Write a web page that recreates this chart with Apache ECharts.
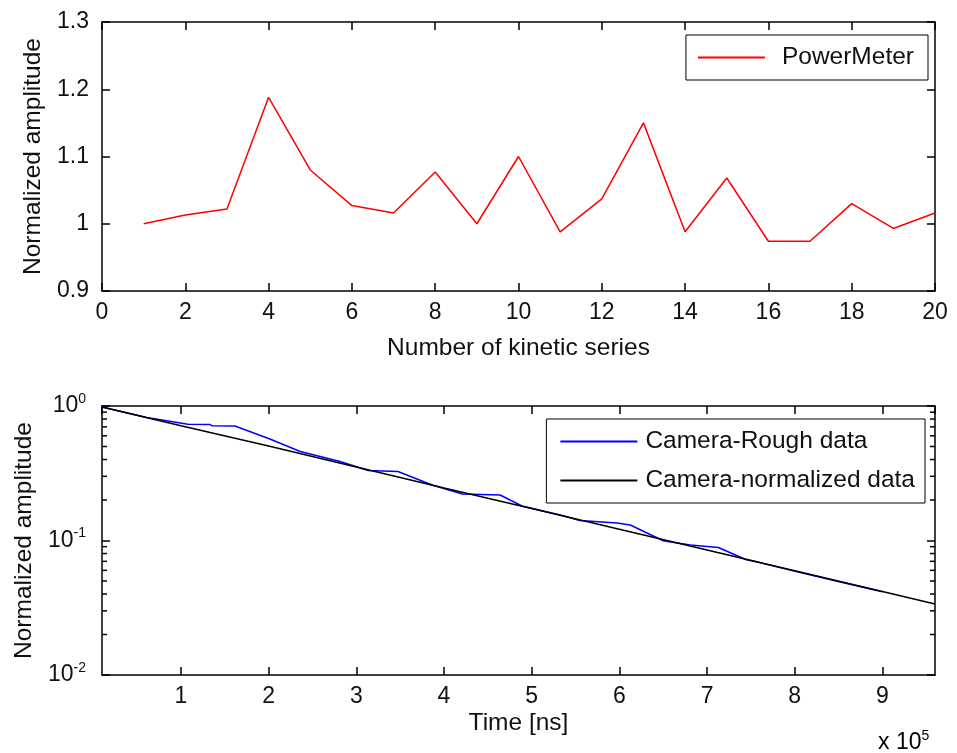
<!DOCTYPE html>
<html>
<head>
<meta charset="utf-8">
<script src="https://cdn.jsdelivr.net/npm/echarts@6/dist/echarts.min.js"></script>
<style>
html, body { margin: 0; padding: 0; background: #fff; }
#chart { width: 957px; height: 753px; }
</style>
</head>
<body>
<div id="chart"></div>
<script>
// top panel: power meter per kinetic series
var kineticSeries = [1, 2, 3, 4, 5, 6, 7, 8, 9, 10, 11, 12, 13, 14, 15, 16, 17, 18, 19, 20]
var powerMeter = [1.0, 1.013, 1.022, 1.188, 1.08, 1.027, 1.016, 1.077, 1.0, 1.1,
  0.988, 1.037, 1.15, 0.988, 1.068, 0.974, 0.974, 1.03, 0.993, 1.016]

// bottom panel: camera decay (time in ns)
var timeRough = [10000, 61000, 108000, 133000, 135500, 161500, 201500, 236000, 281500, 313500,
  347500, 386500, 421000, 464000, 489000, 532500, 555000, 597500, 612500, 650000,
  681000, 713000, 744000, 761000, 806500, 852000, 900000]
var cameraRough = [0.983, 0.820, 0.731, 0.729, 0.712, 0.710, 0.568, 0.459, 0.387, 0.3315,
  0.326, 0.2586, 0.2217, 0.2180, 0.1805, 0.1547, 0.1408, 0.1349, 0.1304, 0.0995,
  0.0926, 0.0887, 0.0722, 0.0682, 0.0578, 0.0492, 0.0416]
var timeNorm = [10000, 100000, 200000, 300000, 400000, 500000, 600000, 700000, 800000, 900000, 960000]
var cameraNorm = [0.983, 0.714, 0.505, 0.352, 0.2457, 0.1727, 0.1212, 0.0850, 0.0596, 0.0418, 0.0337]

var minorTickVals = [0.02, 0.03, 0.04, 0.05, 0.06, 0.07, 0.08, 0.09,
  0.2, 0.3, 0.4, 0.5, 0.6, 0.7, 0.8, 0.9]

var FONT = 'Liberation Sans, Arial, sans-serif'
var FS = 23
var FS_NAME = 24.5
var TXT = '#111'

function frameAxis(extra) {
  var base = {
    axisLine: { show: true, onZero: false, lineStyle: { color: '#000', width: 1.5 } },
    axisTick: { show: true, inside: true, length: 8, lineStyle: { color: '#000', width: 1.5 } },
    splitLine: { show: false },
    axisLabel: { show: false }
  }
  return Object.assign(base, extra)
}

var labelStyle = { color: TXT, fontSize: FS, fontFamily: FONT }
var nameStyle = { color: TXT, fontSize: FS_NAME, fontFamily: FONT }

var powRich = {
  b: { fontSize: FS, fontFamily: FONT, color: TXT },
  s: { fontSize: 14, fontFamily: FONT, color: TXT, verticalAlign: 'top', padding: [0, 0, 14, 0] }
}

var myChart = echarts.init(document.getElementById('chart'))

var option = {
  animation: false,
  backgroundColor: '#fff',
  grid: [
    { left: 102, right: 22, top: 22, height: 269 },
    { left: 102, right: 22, top: 406, height: 269 }
  ],
  legend: [
    {
      data: ['PowerMeter'],
      right: 29,
      top: 35,
      orient: 'vertical',
      backgroundColor: '#fff',
      borderColor: '#000',
      borderWidth: 1,
      padding: [10, 14, 10, 12],
      icon: 'rect',
      itemWidth: 67,
      itemHeight: 2,
      textStyle: { color: TXT, fontSize: FS_NAME, fontFamily: FONT, padding: [0, 0, 0, 12] }
    },
    {
      data: ['Camera-Rough data', 'Camera-normalized data'],
      right: 32,
      top: 419,
      orient: 'vertical',
      backgroundColor: '#fff',
      borderColor: '#000',
      borderWidth: 1,
      padding: [10, 10, 10, 14],
      itemGap: 14,
      icon: 'rect',
      itemWidth: 77,
      itemHeight: 2,
      textStyle: { color: TXT, fontSize: FS_NAME, fontFamily: FONT, padding: [0, 0, 0, 3] }
    }
  ],
  xAxis: [
    frameAxis({
      type: 'value', gridIndex: 0, position: 'bottom', min: 0, max: 20, interval: 2,
      axisLabel: Object.assign({ show: true, margin: 10 }, labelStyle),
      name: 'Number of kinetic series', nameLocation: 'middle', nameGap: 45, nameTextStyle: nameStyle
    }),
    frameAxis({ type: 'value', gridIndex: 0, position: 'top', min: 0, max: 20, interval: 2 }),
    frameAxis({
      type: 'value', gridIndex: 1, position: 'bottom', min: 10000, max: 960000, splitNumber: 10,
      axisLabel: Object.assign({
        show: true, margin: 10, showMinLabel: false, showMaxLabel: false,
        formatter: function (v) { return String(Math.round(v / 1e5)) }
      }, labelStyle),
      name: 'Time [ns]', nameLocation: 'middle', nameGap: 36, nameTextStyle: nameStyle
    }),
    frameAxis({ type: 'value', gridIndex: 1, position: 'top', min: 10000, max: 960000, splitNumber: 10 })
  ],
  yAxis: [
    frameAxis({
      type: 'value', gridIndex: 0, position: 'left', min: 0.9, max: 1.3, interval: 0.1,
      axisLabel: Object.assign({ show: true, margin: 13 }, labelStyle),
      name: 'Normalized amplitude', nameLocation: 'middle', nameGap: 55, nameTextStyle: nameStyle
    }),
    frameAxis({ type: 'value', gridIndex: 0, position: 'right', min: 0.9, max: 1.3, interval: 0.1 }),
    frameAxis({
      type: 'log', logBase: 10, gridIndex: 1, position: 'left', min: 0.01, max: 1,
      axisLabel: {
        show: true, margin: 16,
        formatter: function (v) { return '{b|10}{s|' + Math.round(Math.log10(v)) + '}' },
        rich: powRich
      },
      name: 'Normalized amplitude', nameLocation: 'middle', nameGap: 56, nameTextStyle: nameStyle
    }),
    frameAxis({ type: 'log', logBase: 10, gridIndex: 1, position: 'right', min: 0.01, max: 1 })
  ],
  graphic: [
    {
      type: 'text', left: 878, top: 729,
      style: { text: '{b|x 10}{s|5}', rich: powRich }
    }
  ],
  series: [
    {
      name: 'PowerMeter', type: 'line', xAxisIndex: 0, yAxisIndex: 0,
      data: kineticSeries.map(function (k, i) { return [k, powerMeter[i]] }),
      symbol: 'none', color: '#ff0000', lineStyle: { color: '#ff0000', width: 1.5 }
    },
    {
      name: 'Camera-Rough data', type: 'line', xAxisIndex: 2, yAxisIndex: 2,
      data: timeRough.map(function (t, i) { return [t, cameraRough[i]] }),
      symbol: 'none', color: '#0000ff', lineStyle: { color: '#0000ff', width: 1.5 }
    },
    {
      name: 'Camera-normalized data', type: 'line', xAxisIndex: 2, yAxisIndex: 2,
      data: timeNorm.map(function (t, i) { return [t, cameraNorm[i]] }),
      symbol: 'none', color: '#000', lineStyle: { color: '#000', width: 1.5 }
    },
    {
      // log minor ticks on both sides of the lower box
      type: 'custom', xAxisIndex: 2, yAxisIndex: 2, silent: true, clip: false, z: 5,
      data: minorTickVals.map(function (v) { return [timeNorm[0], v] }),
      renderItem: function (params, api) {
        var y = api.coord([api.value(0), api.value(1)])[1]
        var cs = params.coordSys
        var st = { stroke: '#000', lineWidth: 1.5 }
        return {
          type: 'group',
          children: [
            { type: 'line', shape: { x1: cs.x, y1: y, x2: cs.x + 5, y2: y }, style: st },
            { type: 'line', shape: { x1: cs.x + cs.width - 5, y1: y, x2: cs.x + cs.width, y2: y }, style: st }
          ]
        }
      }
    }
  ]
}

myChart.setOption(option)
</script>
</body>
</html>
